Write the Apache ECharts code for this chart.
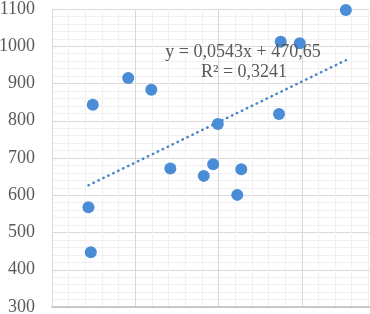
<!DOCTYPE html>
<html>
<head>
<meta charset="utf-8">
<script src="https://cdn.jsdelivr.net/npm/echarts@6/dist/echarts.min.js"></script>
<style>
html,body{margin:0;padding:0;background:#fff;}
#c{width:370px;height:314px;}
</style>
</head>
<body>
<div id="c"></div>
<script>
// Data
var xValues = [2875, 2932, 2980, 3831, 4386, 4843, 5646, 5872, 5984, 6451, 6547, 7453, 7494, 7952, 9060];
var yValues = [568, 447, 843, 915, 883, 672, 652, 683, 791, 601, 670, 818, 1012, 1008, 1097];
var trendSlope = 0.0543;
var trendIntercept = 470.65;
var equationLabel = 'y = 0,0543x + 470,65';
var r2Label = 'R² = 0,3241';
var yTicks = [300, 400, 500, 600, 700, 800, 900, 1000, 1100];

var points = xValues.map(function (x, i) { return [x, yValues[i]]; });
var xMin = Math.min.apply(null, xValues), xMax = Math.max.apply(null, xValues);
var trend = [[xMin, trendSlope * xMin + trendIntercept], [xMax, trendSlope * xMax + trendIntercept]];

var font = '"Liberation Serif", "Times New Roman", serif';
var chart = echarts.init(document.getElementById('c'), null, {renderer: 'canvas'});
chart.setOption({
  animation: false,
  backgroundColor: '#ffffff',
  grid: {left: 52, right: -15, top: 9, bottom: 7, containLabel: false, outerBoundsMode: 'none'},
  xAxis: {
    type: 'value', min: 2000, max: 10000, interval: 2000,
    axisLabel: {show: false},
    axisTick: {show: false},
    axisLine: {show: true, onZero: false, lineStyle: {color: '#bfbfbf', width: 1.5}},
    splitLine: {show: true, lineStyle: {color: '#d9d9d9', width: 1}},
    minorTick: {show: false, splitNumber: 5},
    minorSplitLine: {show: true, lineStyle: {color: '#f0f0f0', width: 1}}
  },
  yAxis: {
    type: 'value', min: yTicks[0], max: yTicks[yTicks.length - 1], interval: 100,
    axisLabel: {color: '#595959', fontFamily: font, fontSize: 18, margin: 17,
      formatter: function (v) { return String(v); }},
    axisTick: {show: false},
    axisLine: {show: false},
    splitLine: {show: true, lineStyle: {color: '#d9d9d9', width: 1}},
    minorTick: {show: false, splitNumber: 5},
    minorSplitLine: {show: true, lineStyle: {color: '#f0f0f0', width: 1}}
  },
  series: [
    {
      type: 'line', data: trend, symbol: 'none', silent: true, z: 2,
      lineStyle: {color: '#4a86c8', width: 2.5, type: [0.5, 5], cap: 'round'}
    },
    {
      type: 'scatter', data: points, symbol: 'circle', symbolSize: 12, z: 3,
      itemStyle: {color: '#4a8cd6', opacity: 1}
    }
  ],
  graphic: [
    {type: 'text', x: 243, y: 43, style: {text: equationLabel, fill: '#595959', font: '18px ' + font, textAlign: 'center', textVerticalAlign: 'top'}, z: 10},
    {type: 'text', x: 244, y: 63, style: {text: r2Label, fill: '#595959', font: '18px ' + font, textAlign: 'center', textVerticalAlign: 'top'}, z: 10}
  ]
});
</script>
</body>
</html>
